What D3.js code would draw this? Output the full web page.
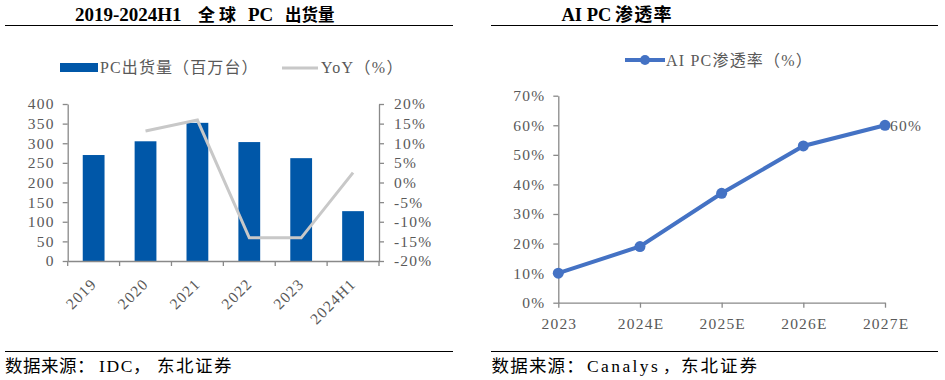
<!DOCTYPE html>
<html><head><meta charset="utf-8">
<script src="https://cdn.jsdelivr.net/npm/d3@7"></script>
<style>
body{margin:0;background:#fff;}
svg{display:block;}
text{font-family:"Liberation Serif","Times New Roman","Noto Sans CJK SC",serif;}
.cj{font-family:"Noto Sans CJK SC",sans-serif;}
</style></head>
<body>
<svg id="c" width="945" height="380"></svg>
<script>
const years = ["2019","2020","2021","2022","2023","2024H1"];
const shipments = [270, 305, 352, 303, 262, 127];
const yoy = [null, 13.1, 15.9, -14.1, -14.1, 2.5];
const leftTicks = [0,50,100,150,200,250,300,350,400];
const rightTicks = [-20,-15,-10,-5,0,5,10,15,20];

const aiYears = ["2023","2024E","2025E","2026E","2027E"];
const aiPen = [10, 19, 37, 53, 60];
const aiTicks = [0,10,20,30,40,50,60,70];

const svg = d3.select("#c");
const axisCol = "#898989", txtCol = "#595959";

// ---------- Left chart ----------
const t1 = svg.append("text").attr("y",21).attr("font-weight","bold").attr("fill","#000");
t1.append("tspan").attr("x",75).attr("font-size",19).text("2019-2024H1");
t1.append("tspan").attr("x",198).attr("class","cj").attr("font-size",17).attr("letter-spacing",4).text("全球");
t1.append("tspan").attr("x",248).attr("font-size",19).text("PC");
t1.append("tspan").attr("x",285).attr("class","cj").attr("font-size",16.5).text("出货量");
svg.append("line").attr("x1",5).attr("x2",453).attr("y1",25.5).attr("y2",25.5).attr("stroke","#000").attr("stroke-width",1.2);

// legend
svg.append("rect").attr("x",60).attr("y",63).attr("width",38).attr("height",9).attr("fill","#0057A8");
svg.append("text").attr("x",100).attr("y",73).attr("font-size",16).attr("fill",txtCol).attr("letter-spacing",1.1)
  .html('PC<tspan class="cj">出货量（百万台）</tspan>');
svg.append("line").attr("x1",282).attr("x2",318).attr("y1",68).attr("y2",68).attr("stroke","#C8C8C8").attr("stroke-width",3);
svg.append("text").attr("x",321).attr("y",73).attr("font-size",16).attr("fill",txtCol).attr("letter-spacing",1.3)
  .html('YoY<tspan class="cj">（</tspan>%<tspan class="cj">）</tspan>');

const x = d3.scaleBand().domain(years).range([67.7,379]).paddingInner(0).paddingOuter(0);
const yL = d3.scaleLinear().domain([0,400]).range([261,104]);
const yR = d3.scaleLinear().domain([-20,20]).range([261,104]);

const gL = svg.append("g");
const bw = x.bandwidth()*0.42;
gL.selectAll("rect.bar").data(years).enter().append("rect")
  .attr("x",d=>x(d)+x.bandwidth()/2-bw/2).attr("width",bw)
  .attr("y",(d,i)=>yL(shipments[i])).attr("height",(d,i)=>yL(0)-yL(shipments[i]))
  .attr("fill","#0057A8");

const lineYoy = d3.line().defined(d=>d[1]!==null)
  .x(d=>x(d[0])+x.bandwidth()/2).y(d=>yR(d[1]));
gL.append("path").datum(years.map((d,i)=>[d,yoy[i]])).attr("d",lineYoy)
  .attr("fill","none").attr("stroke","#C8C8C8").attr("stroke-width",3);

function styleAxis(g){
  g.select(".domain").attr("stroke",axisCol).attr("stroke-width",1.3);
  g.selectAll(".tick line").attr("stroke",axisCol).attr("stroke-width",1.3);
  g.selectAll(".tick text").attr("fill",txtCol).attr("font-size",15.5).attr("letter-spacing",1.2)
    .attr("font-family",'"Liberation Serif","Times New Roman",serif');
}
const axL = svg.append("g").attr("transform","translate(67.7,0)")
  .call(d3.axisLeft(yL).tickValues(leftTicks).tickSize(5).tickSizeOuter(0).tickPadding(8));
styleAxis(axL);
const axR = svg.append("g").attr("transform","translate(379,0)")
  .call(d3.axisRight(yR).tickValues(rightTicks).tickSize(5).tickSizeOuter(0).tickPadding(10).tickFormat(d=>d+"%"));
styleAxis(axR);
const axB = svg.append("g").attr("transform","translate(0,261)")
  .call(d3.axisBottom(x).tickSize(0).tickSizeOuter(0));
styleAxis(axB);
axB.selectAll("line.bt").data(years.concat(["end"])).enter().append("line")
  .attr("x1",(d,i)=>i<years.length?x(d):379).attr("x2",(d,i)=>i<years.length?x(d):379)
  .attr("y1",0).attr("y2",5).attr("stroke",axisCol).attr("stroke-width",1.3);
axB.selectAll(".tick text").attr("text-anchor","end")
  .attr("transform","translate(0,20) rotate(-45)").attr("dy","0.35em").attr("y",0).attr("x",0);

svg.append("line").attr("x1",5).attr("x2",453).attr("y1",351.5).attr("y2",351.5).attr("stroke","#000").attr("stroke-width",1.2);
const s1 = svg.append("text").attr("y",372).attr("font-size",17.5).attr("fill","#000");
s1.append("tspan").attr("x",5).attr("class","cj").attr("letter-spacing",0.5).text("数据来源：");
s1.append("tspan").attr("x",99).attr("letter-spacing",1.6).text("IDC");
s1.append("tspan").attr("x",133).attr("class","cj").text("，");
s1.append("tspan").attr("x",157).attr("class","cj").attr("letter-spacing",1.5).text("东北证券");

// ---------- Right chart ----------
const t2 = svg.append("text").attr("y",21).attr("font-weight","bold").attr("fill","#000");
t2.append("tspan").attr("x",561.5).attr("font-size",18.5).text("AI PC");
t2.append("tspan").attr("x",615).attr("class","cj").attr("font-size",18).attr("letter-spacing",1.3).text("渗透率");
svg.append("line").attr("x1",491).attr("x2",938).attr("y1",25.5).attr("y2",25.5).attr("stroke","#000").attr("stroke-width",1.2);

const blue = "#4472C4";
svg.append("line").attr("x1",625).attr("x2",665).attr("y1",60).attr("y2",60).attr("stroke",blue).attr("stroke-width",4);
svg.append("circle").attr("cx",645).attr("cy",60).attr("r",5).attr("fill",blue);
svg.append("text").attr("x",666).attr("y",65.5).attr("font-size",16).attr("letter-spacing",1.2).attr("fill",txtCol)
  .html('AI PC<tspan class="cj">渗透率（</tspan>%<tspan class="cj">）</tspan>');

const xP = d3.scalePoint().domain(aiYears).range([558.3,885]);
const yP = d3.scaleLinear().domain([0,70]).range([302.7,95.7]);

const axPL = svg.append("g").attr("transform","translate(558.3,0)")
  .call(d3.axisLeft(yP).tickValues(aiTicks).tickSize(5).tickSizeOuter(0).tickPadding(8).tickFormat(d=>d+"%"));
styleAxis(axPL);
const axPB = svg.append("g").attr("transform","translate(0,302.7)")
  .call(d3.axisBottom(xP).tickSize(5).tickSizeOuter(0).tickPadding(10));
styleAxis(axPB);
axPB.selectAll(".tick text").attr("dx","0.6px");

const lineP = d3.line().x((d,i)=>xP(aiYears[i])).y(d=>yP(d));
svg.append("path").datum(aiPen).attr("d",lineP).attr("fill","none").attr("stroke",blue).attr("stroke-width",4);
svg.selectAll("circle.pt").data(aiPen).enter().append("circle")
  .attr("cx",(d,i)=>xP(aiYears[i])).attr("cy",d=>yP(d)).attr("r",5.5).attr("fill",blue);
svg.append("text").attr("x",xP(aiYears[4])+5).attr("y",yP(aiPen[4])+5.5).attr("font-size",15.5).attr("letter-spacing",1.2).attr("fill",txtCol)
  .text(aiPen[4]+"%");

svg.append("line").attr("x1",491).attr("x2",938).attr("y1",351.5).attr("y2",351.5).attr("stroke","#000").attr("stroke-width",1.2);
const s2 = svg.append("text").attr("y",372).attr("font-size",17.5).attr("fill","#000");
s2.append("tspan").attr("x",491.5).attr("class","cj").attr("letter-spacing",1.2).text("数据来源：");
s2.append("tspan").attr("x",587).attr("letter-spacing",2.4).text("Canalys");
s2.append("tspan").attr("x",663).attr("class","cj").attr("font-size",16).text("，");
s2.append("tspan").attr("x",681).attr("class","cj").attr("letter-spacing",2).text("东北证券");
</script>
</body></html>
